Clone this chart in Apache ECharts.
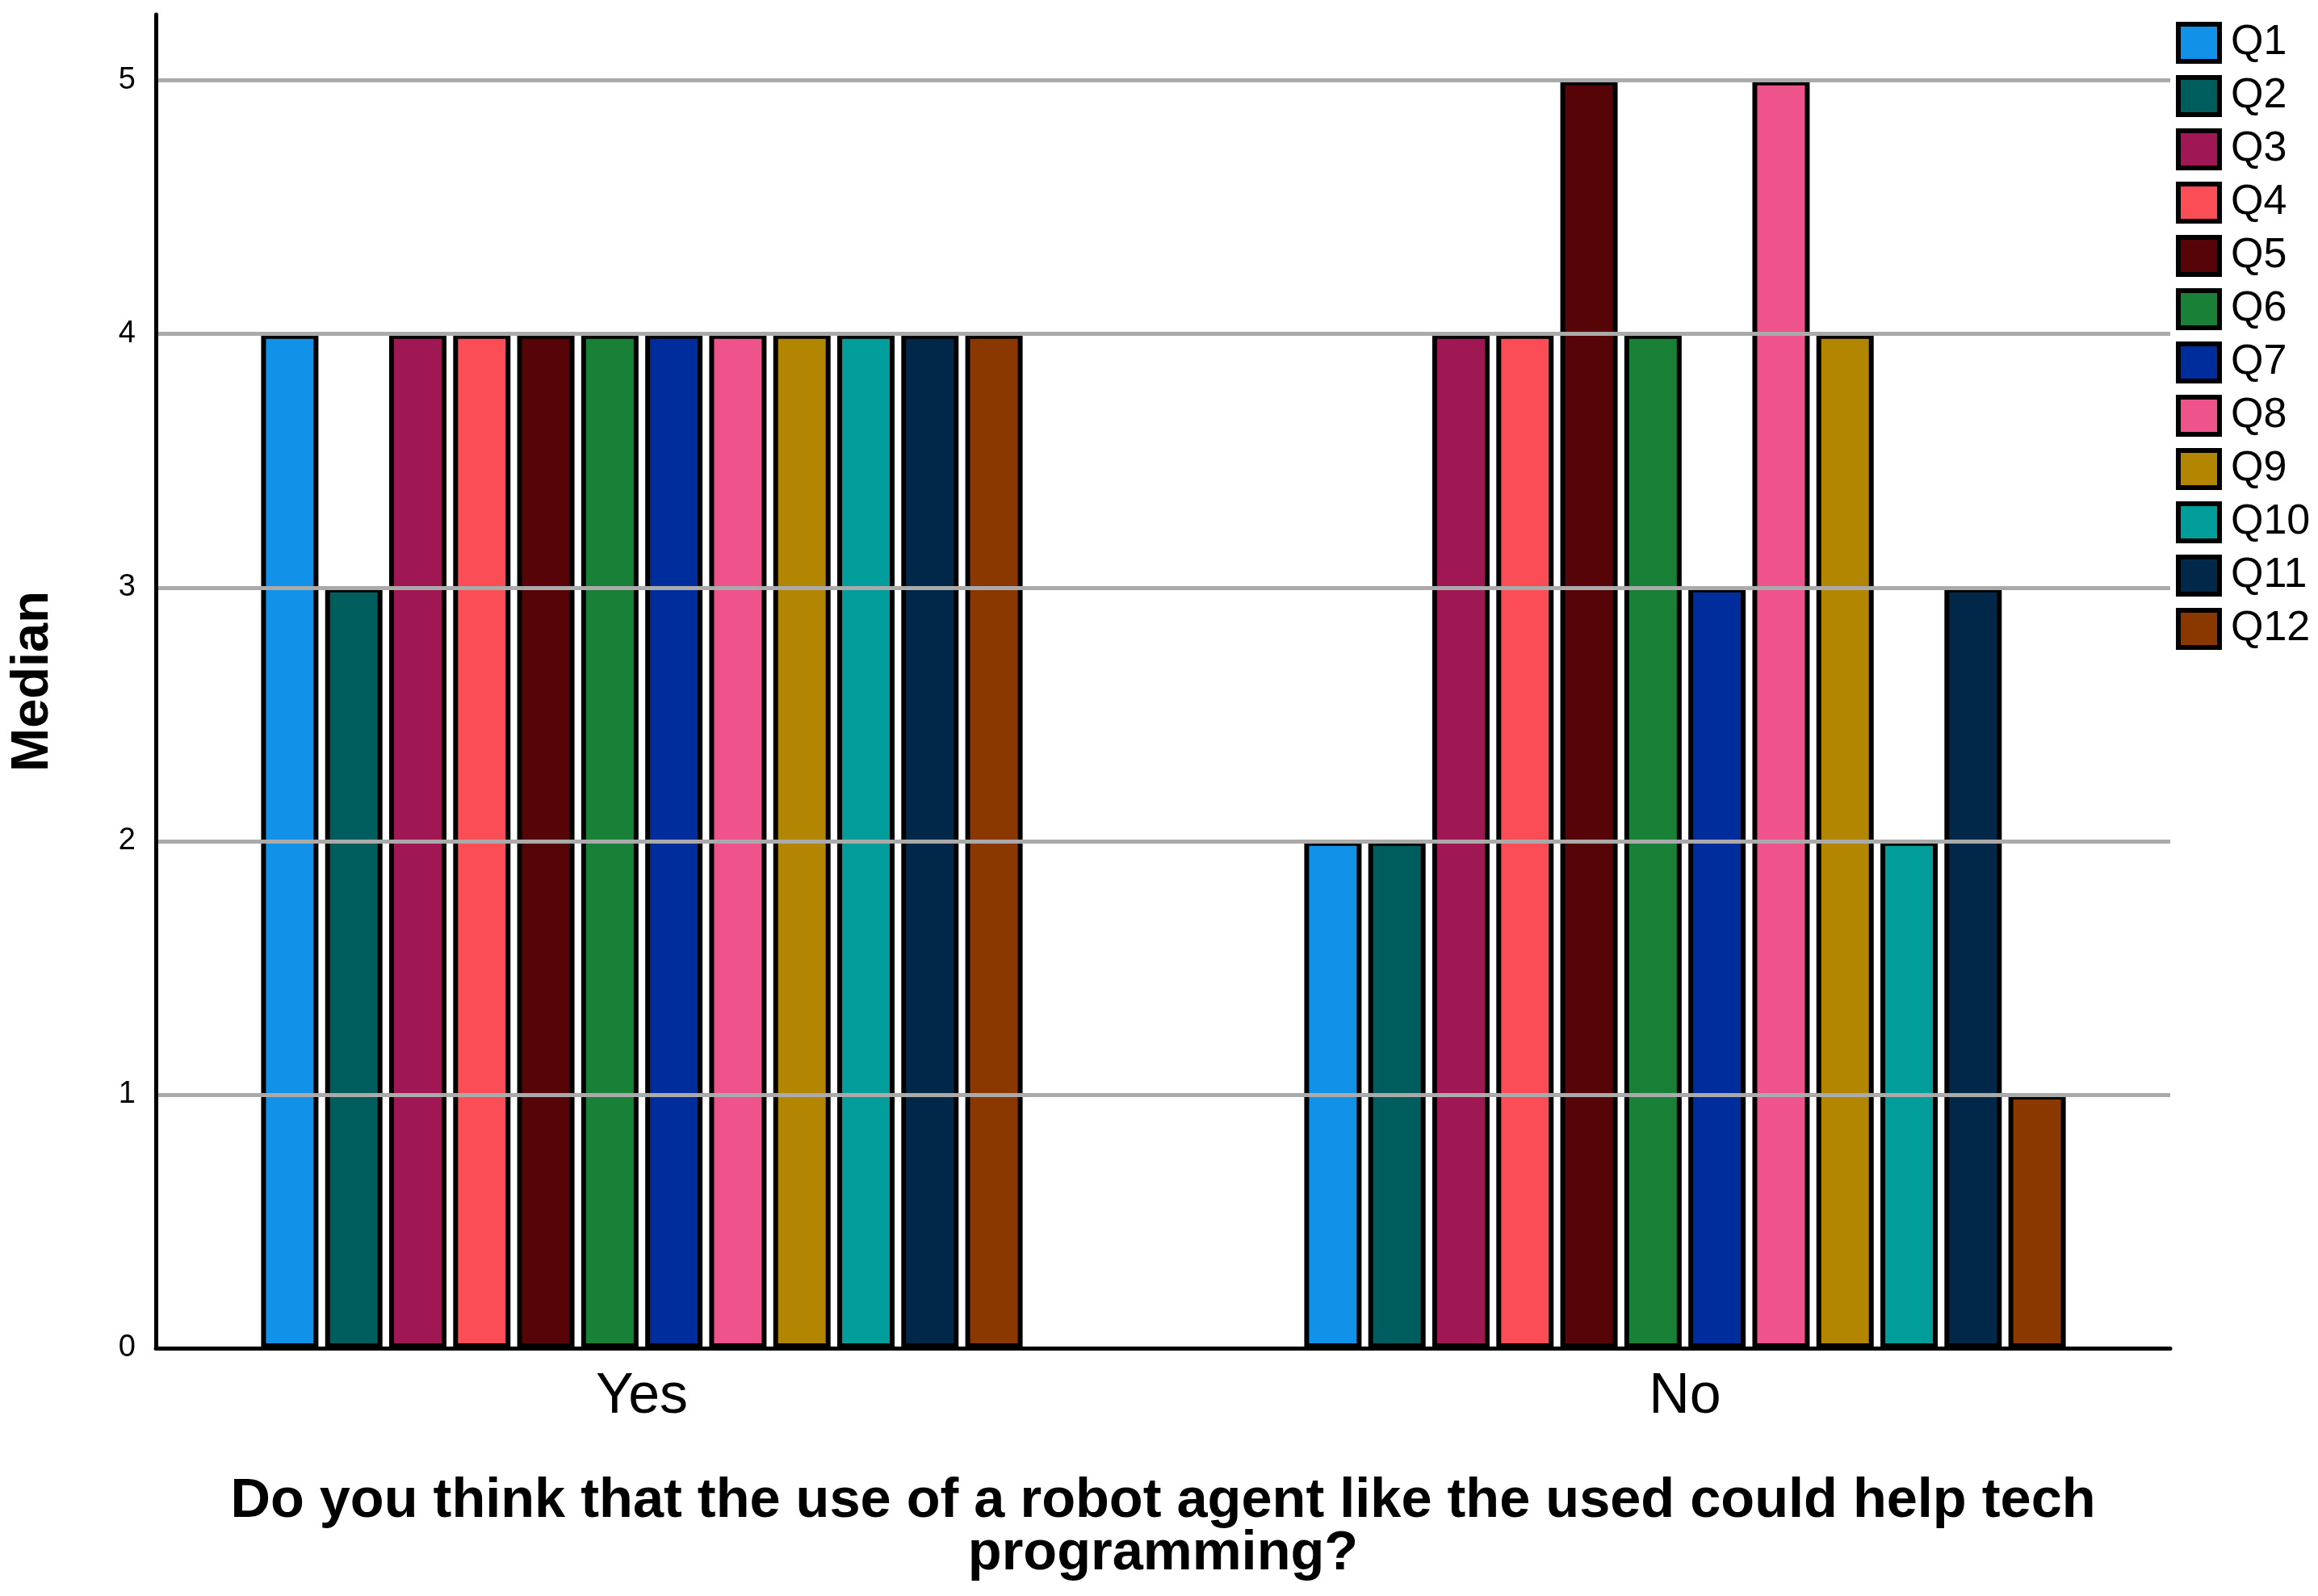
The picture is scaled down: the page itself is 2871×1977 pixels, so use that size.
<!DOCTYPE html>
<html>
<head>
<meta charset="utf-8">
<script src="https://cdn.jsdelivr.net/npm/echarts@6/dist/echarts.min.js"></script>
<style>
html,body{margin:0;padding:0;background:#fff;}
#chart{width:2871px;height:1977px;}
</style>
</head>
<body>
<div id="chart"></div>
<script>
const categories = ['Yes', 'No'];
const seriesNames = ['Q1','Q2','Q3','Q4','Q5','Q6','Q7','Q8','Q9','Q10','Q11','Q12'];
const Q1 = [4, 2];
const Q2 = [3, 2];
const Q3 = [4, 4];
const Q4 = [4, 4];
const Q5 = [4, 5];
const Q6 = [4, 4];
const Q7 = [4, 3];
const Q8 = [4, 5];
const Q9 = [4, 4];
const Q10 = [4, 2];
const Q11 = [4, 3];
const Q12 = [4, 1];
const seriesValues = [Q1,Q2,Q3,Q4,Q5,Q6,Q7,Q8,Q9,Q10,Q11,Q12];
const colors = ['#1192e8','#005d5d','#9f1853','#fa4d56','#570408','#198038','#002d9c','#ee538b','#b28600','#009d9a','#012749','#8a3800'];
const yTicks = [0,1,2,3,4,5];
const yMax = 5.26;
const xTitle = 'Do you think that the use of a robot agent like the used could help tech\nprogramming?';
const yTitle = 'Median';

const FONT = "'Liberation Sans', Arial, Helvetica, sans-serif";
const chart = echarts.init(document.getElementById('chart'), null, {renderer:'canvas'});

const series = seriesNames.map((name, i) => ({
  name: name,
  type: 'bar',
  xAxisIndex: 1,
  yAxisIndex: 1,
  data: seriesValues[i],
  barCategoryGap: '27%',
  barGap: '11.7%',
  z: 2,
  itemStyle: { color: colors[i], borderColor: '#000', borderWidth: 6 }
}));

chart.setOption({
  animation: false,
  backgroundColor: '#ffffff',
  textStyle: { fontFamily: FONT },
  grid: [
    { left: 193, right: 183, top: 18, bottom: 307, containLabel: false },
    { left: 149, right: 138, top: 18, bottom: 307, containLabel: false }
  ],
  legend: {
    orient: 'vertical',
    left: 2690,
    top: 22,
    icon: 'rect',
    itemWidth: 51,
    itemHeight: 46,
    itemGap: 14,
    selectedMode: false,
    data: seriesNames,
    textStyle: { fontFamily: FONT, fontSize: 52, color: '#000', padding: [0,0,0,9] },
    itemStyle: { borderColor: '#000', borderWidth: 6 }
  },
  xAxis: [
    {
      gridIndex: 0,
      type: 'category',
      data: categories,
      z: 5,
      axisLine: { show: true, lineStyle: { color: '#000', width: 5 } },
      axisTick: { show: false },
      axisLabel: { show: false },
      splitLine: { show: false },
      name: xTitle,
      nameLocation: 'middle',
      nameGap: 158,
      nameTextStyle: { fontFamily: FONT, fontSize: 68.5, fontWeight: 'bold', color: '#000', lineHeight: 65, align: 'center' }
    },
    {
      gridIndex: 1,
      type: 'category',
      data: categories,
      axisLine: { show: false },
      axisTick: { show: false },
      splitLine: { show: false },
      axisLabel: { show: true, fontFamily: FONT, fontSize: 70, color: '#000', margin: 26 }
    }
  ],
  yAxis: [
    {
      gridIndex: 0,
      type: 'value',
      min: 0,
      max: yMax,
      interval: 1,
      z: 5,
      axisLine: { show: true, lineStyle: { color: '#000', width: 5 } },
      axisTick: { show: false },
      axisLabel: {
        show: true, fontFamily: FONT, fontSize: 38, color: '#000', margin: 25,
        formatter: function (v) { return yTicks.indexOf(v) >= 0 ? String(v) : ''; }
      },
      splitLine: { show: true, lineStyle: { color: ['#aaaaaa','#aaaaaa','#aaaaaa','#aaaaaa','#aaaaaa','#aaaaaa','rgba(0,0,0,0)'], width: 5 } },
      name: yTitle,
      nameLocation: 'middle',
      nameGap: 119,
      nameTextStyle: { fontFamily: FONT, fontSize: 65, fontWeight: 'bold', color: '#000' }
    },
    {
      gridIndex: 1,
      type: 'value',
      min: 0,
      max: yMax,
      interval: 1,
      show: false,
      splitLine: { show: false }
    }
  ],
  series: series
});
</script>
</body>
</html>
